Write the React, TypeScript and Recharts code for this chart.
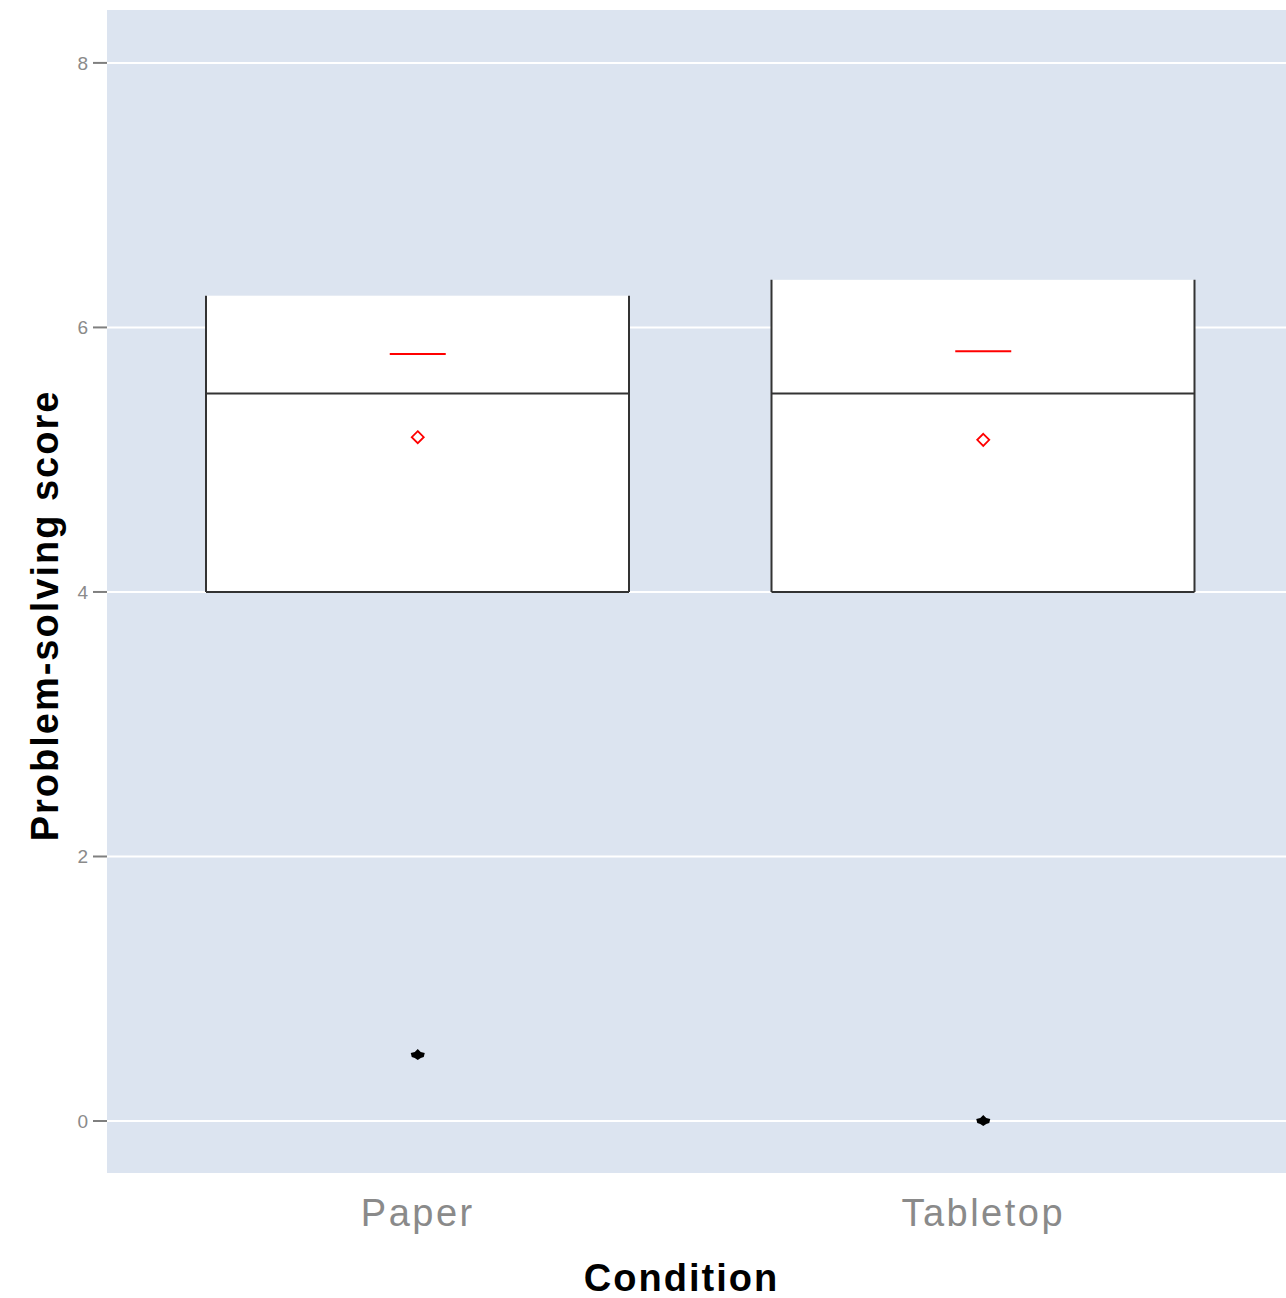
import React from 'react';
import {
  ComposedChart,
  Bar,
  Scatter,
  XAxis,
  YAxis,
  CartesianGrid,
} from 'recharts';

const conditions = ['Paper', 'Tabletop'];
const lowerHinge = [4, 4];
const medians = [5.5, 5.5];
const upperHinge = [6.24, 6.36];
const redLine = [5.8, 5.82];
const redDiamond = [5.17, 5.15];
const outliers = [0.5, 0];
const yTicks = [0, 2, 4, 6, 8];

const data = conditions.map((name, i) => ({
  name,
  box: [lowerHinge[i], upperHinge[i]],
  q1: lowerHinge[i],
  median: medians[i],
  q3: upperHinge[i],
  line: redLine[i],
  diamond: redDiamond[i],
  outlier: outliers[i],
}));

// box without top edge, median drawn proportionally inside the range bar
const BoxShape = (props: any) => {
  const { x, y, width, height, payload } = props;
  const medY = y + (height * (payload.q3 - payload.median)) / (payload.q3 - payload.q1);
  const bottom = y + height;
  return (
    <g>
      <rect x={x} y={y} width={width} height={height} fill="#ffffff" />
      <line x1={x} y1={y} x2={x} y2={bottom} stroke="#333333" strokeWidth={2} />
      <line x1={x + width} y1={y} x2={x + width} y2={bottom} stroke="#333333" strokeWidth={2} />
      <line x1={x} y1={bottom} x2={x + width} y2={bottom} stroke="#333333" strokeWidth={2} />
      <line x1={x} y1={medY} x2={x + width} y2={medY} stroke="#333333" strokeWidth={2} />
    </g>
  );
};

const RedLine = (props: any) => {
  const { cx, cy } = props;
  return <line x1={cx - 28} y1={cy} x2={cx + 28} y2={cy} stroke="#ff0000" strokeWidth={2} />;
};

const RedDiamond = (props: any) => {
  const { cx, cy } = props;
  return (
    <path
      d={`M${cx},${cy - 6} L${cx + 6},${cy} L${cx},${cy + 6} L${cx - 6},${cy} Z`}
      fill="none"
      stroke="#ff0000"
      strokeWidth={1.8}
    />
  );
};

const OutlierDot = (props: any) => {
  const { cx, cy } = props;
  return (
    <path
      d={`M${cx - 7},${cy - 2} L${cx - 3},${cy - 3} L${cx},${cy - 6} L${cx + 3},${cy - 3} L${cx + 7},${cy - 2} L${cx + 6},${cy + 2} L${cx + 3},${cy + 3} L${cx},${cy + 5} L${cx - 3},${cy + 3} L${cx - 6},${cy + 2} Z`}
      fill="#000000"
    />
  );
};

const YTitle = (props: any) => {
  const vb = props.viewBox;
  const cx = vb.x + 45;
  const cy = vb.y + vb.height / 2 + 24;
  return (
    <text
      x={cx}
      y={cy}
      transform={`rotate(-90, ${cx}, ${cy})`}
      textAnchor="middle"
      dominantBaseline="central"
      fill="#000000"
      fontSize={38}
      fontWeight="bold"
      letterSpacing={2}
    >
      Problem-solving score
    </text>
  );
};

const XTitle = (props: any) => {
  const vb = props.viewBox;
  return (
    <text
      x={vb.x + vb.width / 2 - 15}
      y={vb.y + 118}
      textAnchor="middle"
      fill="#000000"
      fontSize={38}
      fontWeight="bold"
      letterSpacing={2}
    >
      Condition
    </text>
  );
};

export default function App() {
  return (
    <div style={{ position: 'absolute', left: 0, top: 0, background: '#ffffff' }}>
      <ComposedChart
        width={1286}
        height={1298}
        data={data}
        margin={{ top: 10, right: 0, left: 0, bottom: 0 }}
        style={{ fontFamily: '"Liberation Sans", Arial, sans-serif' }}
      >
        <CartesianGrid
          vertical={false}
          horizontalValues={yTicks}
          stroke="#ffffff"
          strokeWidth={2}
          fill="#dce4f0"
        />
        <XAxis
          dataKey="name"
          type="category"
          height={125}
          padding={{ left: 28, right: 20 }}
          axisLine={false}
          tickLine={false}
          tickMargin={20}
          tick={{ fill: '#8a8a8a', fontSize: 38, letterSpacing: 2.5 }}
          label={<XTitle />}
        />
        <YAxis
          type="number"
          domain={[-0.393, 8.4]}
          ticks={yTicks}
          allowDataOverflow
          width={107}
          axisLine={false}
          tickLine={{ stroke: '#7f7f7f', strokeWidth: 2 }}
          tickSize={14}
          tickMargin={5}
          tick={{ fill: '#8a8a8a', fontSize: 19 }}
          label={<YTitle />}
        />
        <Bar dataKey="box" barSize={423} shape={<BoxShape />} isAnimationActive={false} />
        <Scatter dataKey="line" shape={<RedLine />} isAnimationActive={false} />
        <Scatter dataKey="diamond" shape={<RedDiamond />} isAnimationActive={false} />
        <Scatter dataKey="outlier" shape={<OutlierDot />} isAnimationActive={false} />
      </ComposedChart>
    </div>
  );
}
